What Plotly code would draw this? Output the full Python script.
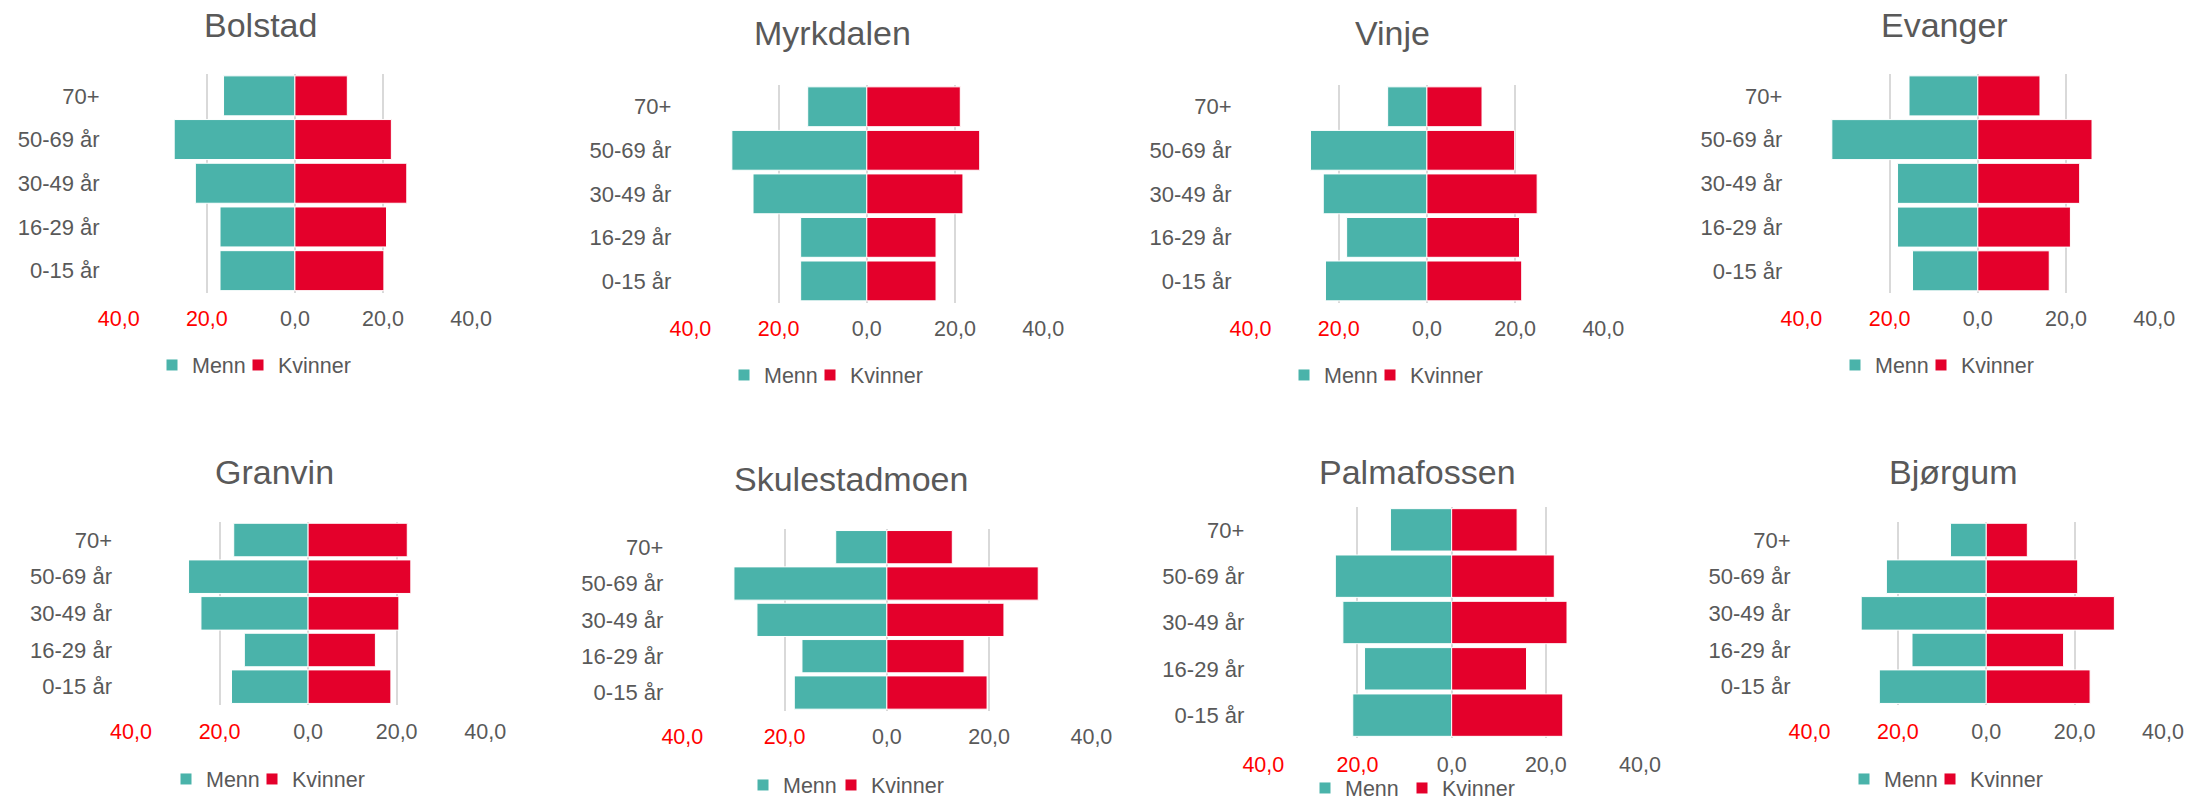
"""
Population pyramids (share of men / women per age group) for eight places.
"""
import plotly.graph_objects as go

# The page body keeps its default 8px margin, so the figure is laid out
# 8px smaller and every screen position is shifted by that amount.
PAGE_W, PAGE_H = 2208, 798
BODY = 8
W, H = PAGE_W - BODY, PAGE_H - BODY

FONT = "Liberation Sans, Arial, sans-serif"
GREY = "#595959"
GRID = "#D9D9D9"
MENN_COLOR = "#4AB3AA"
KVINNER_COLOR = "#E4002B"
NEG_TICK_COLOR = "#FF0000"

# ---------------------------------------------------------------------------
# Data (percent), age groups listed bottom -> top
# ---------------------------------------------------------------------------

age_groups = ["0-15 år", "16-29 år", "30-49 år", "50-69 år", "70+"]

places = ["Bolstad", "Myrkdalen", "Vinje", "Evanger",
          "Granvin", "Skulestadmoen", "Palmafossen", "Bjørgum"]

bolstad_menn = [17.0, 17.0, 22.6, 27.4, 16.2]
bolstad_kvinner = [20.2, 20.8, 25.4, 21.9, 11.9]

myrkdalen_menn = [15.0, 15.0, 25.8, 30.6, 13.4]
myrkdalen_kvinner = [15.7, 15.7, 21.8, 25.6, 21.2]

vinje_menn = [23.0, 18.2, 23.5, 26.4, 8.9]
vinje_kvinner = [21.5, 21.0, 25.0, 19.9, 12.5]

evanger_menn = [14.8, 18.2, 18.2, 33.1, 15.6]
evanger_kvinner = [16.2, 21.0, 23.1, 25.9, 14.1]

granvin_menn = [17.3, 14.4, 24.2, 27.0, 16.8]
granvin_kvinner = [18.7, 15.2, 20.5, 23.2, 22.4]

skulestadmoen_menn = [18.1, 16.6, 25.4, 29.9, 10.0]
skulestadmoen_kvinner = [19.6, 15.1, 22.9, 29.6, 12.8]

palmafossen_menn = [21.0, 18.5, 23.1, 24.7, 13.0]
palmafossen_kvinner = [23.6, 15.9, 24.5, 21.8, 13.9]

bjorgum_menn = [24.2, 16.8, 28.3, 22.6, 8.1]
bjorgum_kvinner = [23.5, 17.5, 29.0, 20.7, 9.3]

menn = [bolstad_menn, myrkdalen_menn, vinje_menn, evanger_menn,
        granvin_menn, skulestadmoen_menn, palmafossen_menn, bjorgum_menn]
kvinner = [bolstad_kvinner, myrkdalen_kvinner, vinje_kvinner, evanger_kvinner,
           granvin_kvinner, skulestadmoen_kvinner, palmafossen_kvinner, bjorgum_kvinner]

tick_vals = [-40, -20, 0, 20, 40]
tick_text = ["40,0", "20,0", "0,0", "20,0", "40,0"]

# ---------------------------------------------------------------------------
# Panel geometry in page pixels:
# plot box (x0, x1, y_top, y_bottom), title centre, legend centre y,
# left edge of first legend swatch, gap width after "Menn"
# ---------------------------------------------------------------------------

PANELS = [
    dict(box=(118.7, 471.1, 74.0, 292.5), title=(260.6, 25.0), leg_y=365, leg_x=172, entry=41),
    dict(box=(690.4, 1043.2, 85.0, 302.7), title=(832.0, 33.3), leg_y=375, leg_x=744, entry=41),
    dict(box=(1250.5, 1603.3, 85.0, 302.7), title=(1392.0, 33.3), leg_y=375, leg_x=1304, entry=41),
    dict(box=(1801.4, 2154.2, 74.0, 292.7), title=(1944.0, 25.0), leg_y=365, leg_x=1855, entry=41),
    dict(box=(131.0, 485.2, 521.7, 705.0), title=(274.0, 472.3), leg_y=779, leg_x=186, entry=41),
    dict(box=(682.3, 1091.4, 529.0, 710.7), title=(851.3, 479.0), leg_y=785, leg_x=763, entry=43),
    dict(box=(1263.3, 1640.0, 506.7, 738.3), title=(1417.5, 472.0), leg_y=788, leg_x=1325, entry=52),
    dict(box=(1809.5, 2163.0, 521.7, 705.0), title=(1952.5, 472.3), leg_y=779, leg_x=1864, entry=41),
]


def px_x(v):
    return (v - BODY) / W


def px_y(v):
    return 1 - (v - BODY) / H


def _fmt_ticks():
    out = []
    for v, t in zip(tick_vals, tick_text):
        if v < 0:
            out.append(f'<span style="color:{NEG_TICK_COLOR}">{t}</span>')
        else:
            out.append(t)
    return out


fig = go.Figure()
layout = dict(
    width=W, height=H,
    margin=dict(l=0, r=0, t=0, b=0, autoexpand=False),
    paper_bgcolor="white",
    plot_bgcolor="white",
    font=dict(family=FONT, color=GREY, size=22),
    barmode="relative",
    bargap=0.085,
    annotations=[],
)

for i, (place, m_vals, k_vals, p) in enumerate(zip(places, menn, kvinner, PANELS), start=1):
    sfx = "" if i == 1 else str(i)
    leg_name = "legend" + sfx
    x0, x1, yt, yb = p["box"]

    fig.add_trace(go.Bar(
        y=age_groups, x=[-v for v in m_vals], orientation="h",
        name="Menn", marker=dict(color=MENN_COLOR, line=dict(color="white", width=1)),
        customdata=m_vals, hovertemplate="Menn %{y}: %{customdata:.1f}<extra></extra>",
        xaxis="x" + sfx, yaxis="y" + sfx, legend=leg_name, legendwidth=p["entry"],
    ))
    fig.add_trace(go.Bar(
        y=age_groups, x=k_vals, orientation="h",
        name="Kvinner", marker=dict(color=KVINNER_COLOR, line=dict(color="white", width=1)),
        hovertemplate="Kvinner %{y}: %{x:.1f}<extra></extra>",
        xaxis="x" + sfx, yaxis="y" + sfx, legend=leg_name, legendwidth=90,
    ))

    layout["xaxis" + sfx] = dict(
        domain=[px_x(x0), px_x(x1)], anchor="y" + sfx,
        range=[-40, 40], tickvals=tick_vals, ticktext=_fmt_ticks(),
        showgrid=True, gridcolor=GRID, gridwidth=1.5,
        zeroline=False, showline=False, ticks="", automargin=False,
        ticklabelstandoff=11, tickfont=dict(size=21.5, color=GREY),
        fixedrange=True,
    )
    layout["yaxis" + sfx] = dict(
        domain=[px_y(yb), px_y(yt)], anchor="x" + sfx,
        categoryorder="array", categoryarray=age_groups,
        showgrid=False, zeroline=False, showline=False, ticks="", automargin=False,
        ticklabelstandoff=18, tickfont=dict(size=22, color=GREY),
        fixedrange=True,
    )
    layout[leg_name] = dict(
        orientation="h", xanchor="left", yanchor="middle",
        x=px_x(p["leg_x"] - 20), y=px_y(p["leg_y"]),
        bgcolor="rgba(0,0,0,0)", font=dict(size=21.5, color=GREY),
        traceorder="normal",
    )
    tx, ty = p["title"]
    layout["annotations"].append(dict(
        text=place, x=px_x(tx), y=px_y(ty), xref="paper", yref="paper",
        xanchor="center", yanchor="middle", showarrow=False,
        font=dict(size=34, color=GREY, family=FONT),
    ))

fig.update_layout(**layout)
fig.write_html("out.html")
